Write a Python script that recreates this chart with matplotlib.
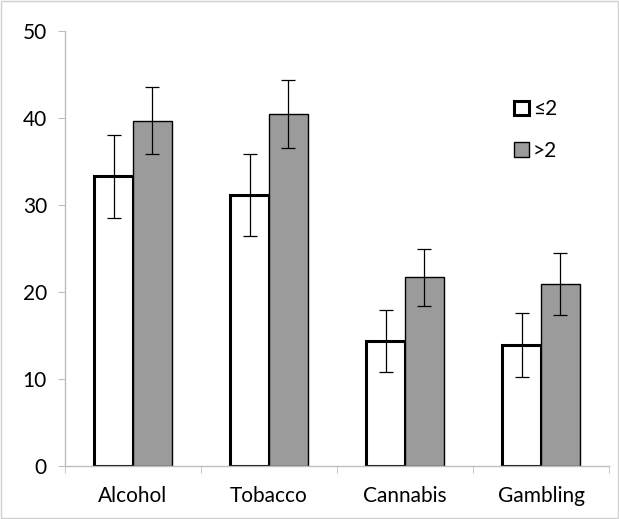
import matplotlib.pyplot as plt
import numpy as np
from matplotlib.patches import Rectangle

categories = ["Alcohol", "Tobacco", "Cannabis", "Gambling"]
low_vals = [33.3, 31.2, 14.4, 13.9]
low_err = [4.75, 4.7, 3.55, 3.7]
high_vals = [39.7, 40.5, 21.7, 20.9]
high_err = [3.85, 3.9, 3.25, 3.55]
series_labels = ["\u22642", ">2"]

plt.rcParams['font.family'] = ['Lato', 'DejaVu Sans']

fig = plt.figure(figsize=(6.19, 5.19), dpi=100)
ax = fig.add_axes([0.105, 0.102, 0.879, 0.838])

x = np.arange(len(categories))
w = 0.285

b1 = ax.bar(x - w / 2, low_vals, w, color='white', edgecolor='black', linewidth=2.2,
            yerr=low_err, error_kw=dict(ecolor='black', elinewidth=0.9, capsize=5, capthick=0.9),
            label=series_labels[0], zorder=2)
b2 = ax.bar(x + w / 2, high_vals, w, color='#9b9b9b', edgecolor='black', linewidth=1.0,
            yerr=high_err, error_kw=dict(ecolor='black', elinewidth=0.9, capsize=5, capthick=0.9),
            label=series_labels[1], zorder=2)

ax.set_xlim(-0.5, len(categories) - 0.5)
ax.set_ylim(0, 50)
ax.set_yticks([0, 10, 20, 30, 40, 50])
ax.set_xticks(x)
ax.set_xticklabels(categories)
ax.set_xticks(np.arange(len(categories) + 1) - 0.5, minor=True)

for s in ['top', 'right']:
    ax.spines[s].set_visible(False)
for s in ['left', 'bottom']:
    ax.spines[s].set_color('#bfbfbf')
    ax.spines[s].set_linewidth(1.0)

ax.tick_params(axis='y', length=5, color='#bfbfbf', labelsize=15, pad=8)
ax.tick_params(axis='x', which='major', length=0, labelsize=15, pad=14)
ax.tick_params(axis='x', which='minor', length=5, color='#bfbfbf')

ax.legend(handles=[b1.patches[0], b2.patches[0]], labels=series_labels,
          loc='upper left', bbox_to_anchor=(0.80, 0.845), bbox_transform=fig.transFigure,
          frameon=False, fontsize=15, handlelength=0.7, handleheight=0.7,
          handletextpad=0.2, labelspacing=1.05)

fig.patches.append(Rectangle((0.002, 0.002), 0.996, 0.996, transform=fig.transFigure,
                             fill=False, edgecolor='#d0d0d0', linewidth=1.0))

fig.savefig("out.png", dpi=100)
